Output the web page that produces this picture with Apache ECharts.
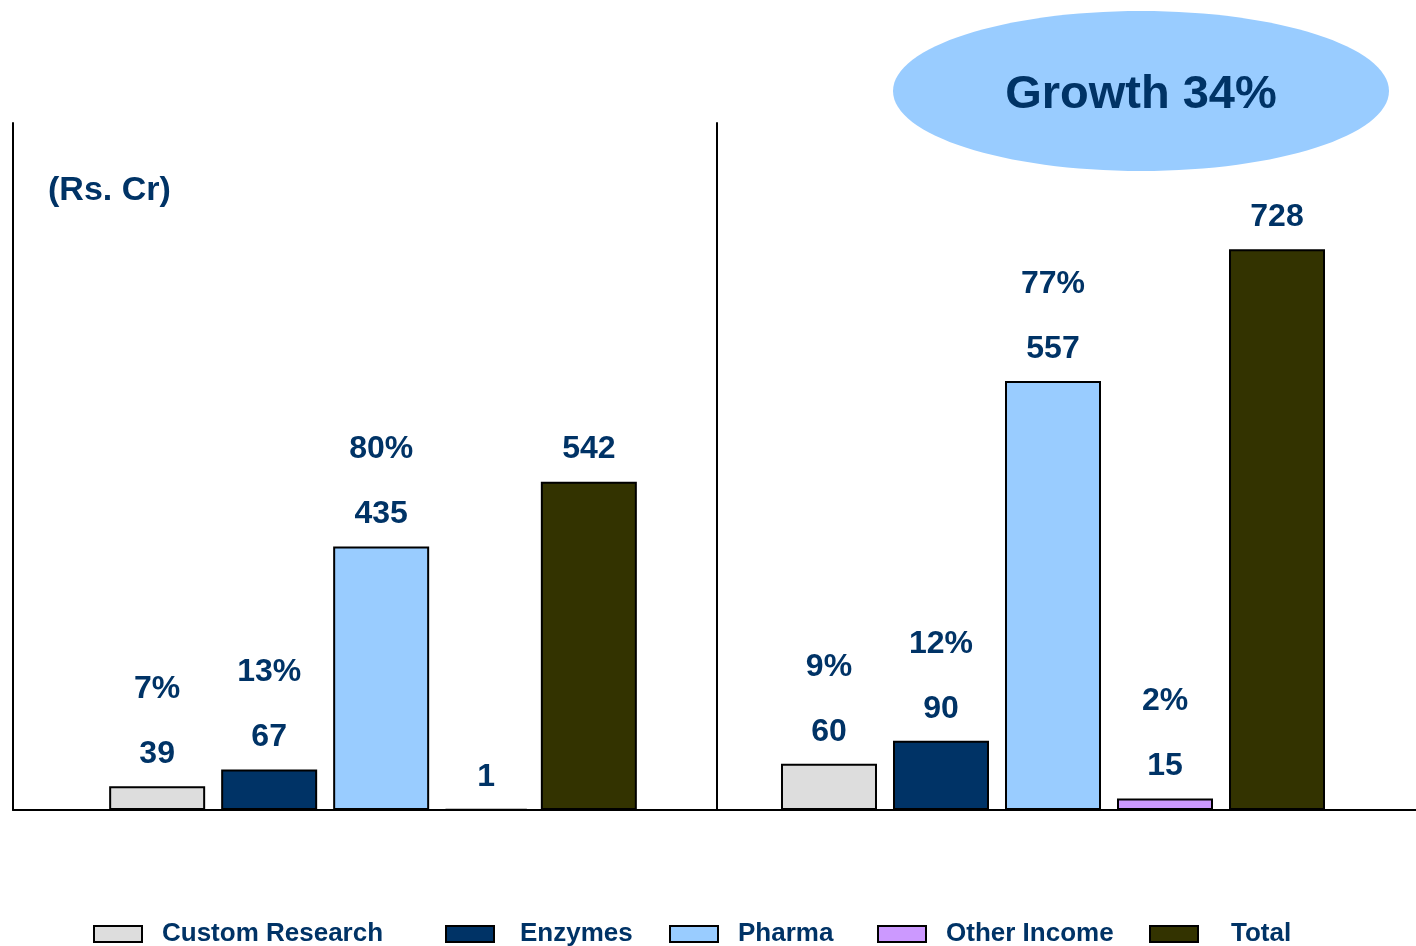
<!DOCTYPE html>
<html>
<head>
<meta charset="utf-8">
<script src="https://cdn.jsdelivr.net/npm/echarts@6/dist/echarts.min.js"></script>
<style>
  html, body { margin: 0; padding: 0; background: #fff; }
  #main { width: 1416px; height: 946px; }
</style>
</head>
<body>
<div id="main"></div>
<script>
// data
var seriesNames = ['Custom Research', 'Enzymes', 'Pharma', 'Other Income', 'Total'];
var leftValues = [39, 67, 435, 1, 542];
var rightValues = [60, 90, 557, 15, 728];
var leftShares = ['7%', '13%', '80%', '', ''];
var rightShares = ['9%', '12%', '77%', '2%', ''];
var growthText = 'Growth 34%';
var unitText = '(Rs. Cr)';

var colors = ['#dddddd', '#003366', '#99ccff', '#cc99ff', '#333300'];
var navy = '#003366';
var font = "'Liberation Sans', Arial, sans-serif";

var chart = echarts.init(document.getElementById('main'));

function makeSeries(values, shares, axisIdx) {
    return seriesNames.map(function (name, i) {
        var share = shares[i];
        return {
            name: name,
            type: 'bar',
            xAxisIndex: axisIdx,
            yAxisIndex: axisIdx,
            barWidth: (axisIdx === 0 && i === 3) ? 82 : 96,
            barGap: '16.67%',
            animation: false,
            itemStyle: { color: colors[i], borderColor: '#000', borderWidth: 2 },
            label: {
                show: true,
                position: 'top',
                distance: 12,
                formatter: function (p) {
                    return share ? '{p|' + share + '}\n{v|' + p.value + '}' : '{v|' + p.value + '}';
                },
                rich: {
                    p: { fontSize: 32, fontWeight: 'bold', color: navy, fontFamily: font, lineHeight: 90 },
                    v: { fontSize: 32, fontWeight: 'bold', color: navy, fontFamily: font, lineHeight: 40 }
                }
            },
            data: [values[i]]
        };
    });
}

// legend layout: icon left edges and icon-to-text gaps
var legendLeft = [93, 445, 669, 877, 1149];
var legendTextGap = [15, 21, 15, 15, 28];

var axisLine = { show: true, lineStyle: { color: '#000', width: 2 } };

var option = {
    animation: false,
    title: {
        text: unitText,
        left: 48,
        top: 174,
        padding: 0,
        textStyle: { fontSize: 34, fontWeight: 'bold', color: navy, fontFamily: font }
    },
    legend: seriesNames.map(function (n, i) {
        return {
            data: [n],
            left: legendLeft[i],
            top: 921,
            padding: 0,
            icon: 'rect',
            itemWidth: 48,
            itemHeight: 16,
            selectedMode: false,
            textStyle: { fontSize: 26, fontWeight: 'bold', color: navy, fontFamily: font, padding: [0, 0, 0, legendTextGap[i]] }
        };
    }),
    grid: [
        { left: 13, top: 123, width: 720, height: 687 },
        { left: 717, top: 123, width: 672, height: 687 }
    ],
    xAxis: [0, 1].map(function (i) {
        return {
            type: 'category',
            gridIndex: i,
            data: [''],
            axisLine: axisLine,
            axisTick: { show: false },
            axisLabel: { show: false }
        };
    }),
    yAxis: [
        { type: 'value', gridIndex: 0, min: 0, max: 1134, axisLine: axisLine, axisTick: { show: false }, axisLabel: { show: false }, splitLine: { show: false } },
        { type: 'value', gridIndex: 1, min: 0, max: 892, axisLine: axisLine, axisTick: { show: false }, axisLabel: { show: false }, splitLine: { show: false } }
    ],
    graphic: [
        { type: 'line', shape: { x1: 1388, y1: 810, x2: 1416, y2: 810 }, style: { stroke: '#000', lineWidth: 2 } },
        { type: 'ellipse', shape: { cx: 1141, cy: 91, rx: 248, ry: 80 }, style: { fill: '#99ccff' } },
        {
            type: 'text', x: 1141, y: 95,
            style: { text: growthText, fill: navy, font: 'bold 47px ' + font, textAlign: 'center', textVerticalAlign: 'middle' }
        }
    ],
    series: makeSeries(leftValues, leftShares, 0).concat(makeSeries(rightValues, rightShares, 1))
};

chart.setOption(option);
</script>
</body>
</html>
